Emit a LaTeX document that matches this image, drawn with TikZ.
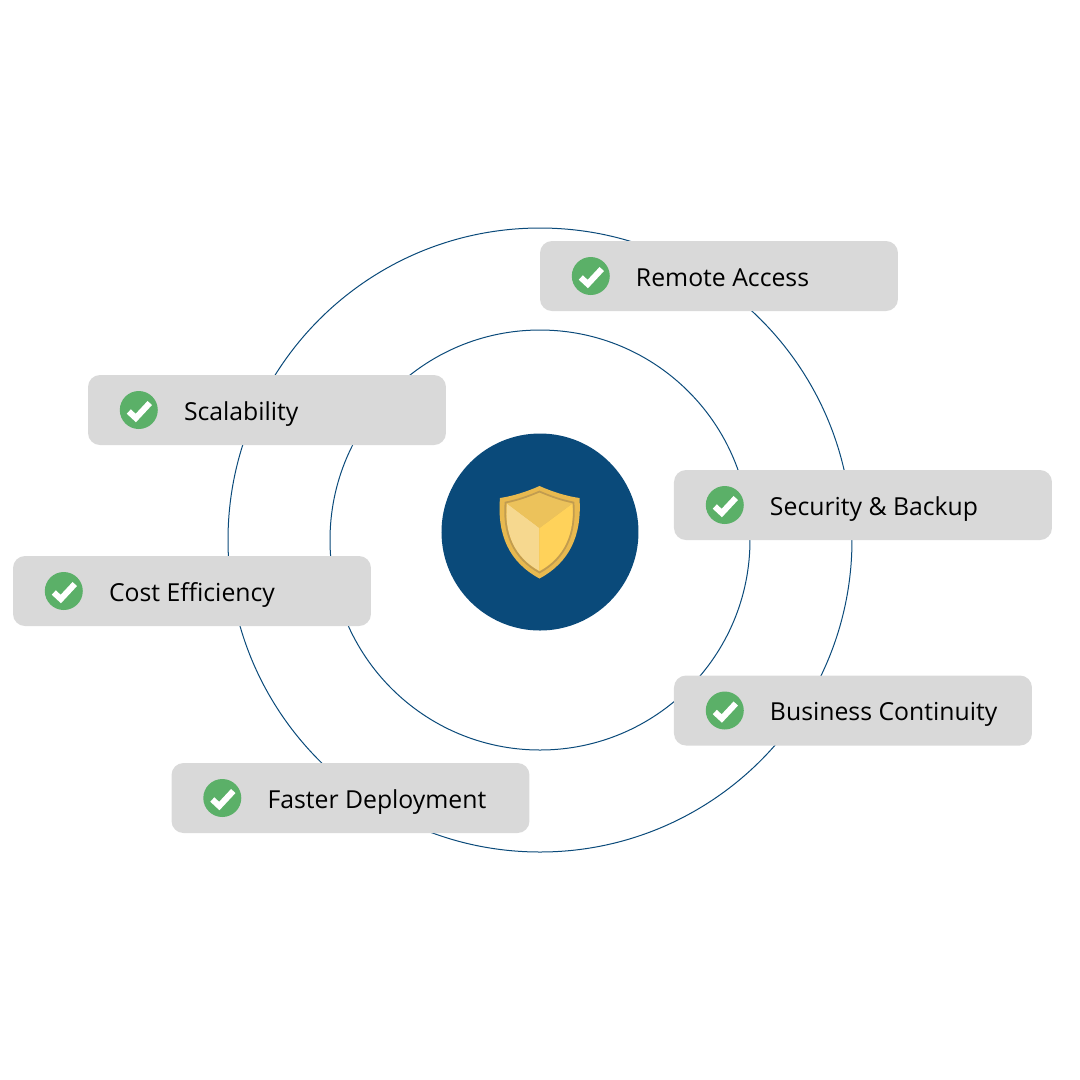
\documentclass[tikz,border=0pt]{standalone}
\usepackage{fontspec}
\setmainfont{Open Sans}
\usetikzlibrary{calc, positioning}

\definecolor{navy}{HTML}{0A4A7A}
\definecolor{boxgray}{HTML}{D9D9D9}
\definecolor{okgreen}{HTML}{5BB068}
\definecolor{shieldrim}{HTML}{E8B94F}
\definecolor{shieldline}{HTML}{C19C50}
\definecolor{shieldtop}{HTML}{ECC25B}
\definecolor{shieldleft}{HTML}{F6D88F}
\definecolor{shieldright}{HTML}{FFD25A}

\begin{document}
\begin{tikzpicture}[
  x=0.1mm, y=-0.1mm,
  ring/.style={circle, draw=navy, line width=0.1mm, minimum size=#1, inner sep=0pt},
  hub/.style={circle, fill=navy, minimum size=19.7mm, inner sep=0pt},
  itembox/.style={rectangle, fill=boxgray, rounded corners=1.2mm,
                  minimum width=#1, minimum height=7mm, inner sep=0pt},
  itembox/.default=35.8mm,
  checknode/.style={circle, fill=okgreen, minimum size=3.8mm, inner sep=0pt},
  itemlabel/.style={anchor=west, inner sep=0pt, text=black, text height=2mm, text depth=0mm,
                    font=\fontsize{7.05pt}{9pt}\selectfont},
  tick/.style={draw=white, line width=0.6mm, line join=miter},
]
\useasboundingbox (0,0) rectangle (1080,1080);

% ---- rings ----
\node[ring=62.4mm] (outer) at (540,540) {};
\node[ring=42mm] (inner) at (540,540) {};
\node[hub] (hub) at (540,532) {};

% ---- shield ----
\fill[shieldrim] (539.5,486) .. controls (553,492) and (566,496) .. (579.5,498)
  .. controls (582,535) and (570,562) .. (539.5,578.5)
  .. controls (509,562) and (497,535) .. (500,498)
  .. controls (513,496) and (526,492) .. (539.5,486) -- cycle;
\fill[shieldleft] (507,503.5) -- (539.5,528) -- (539.5,571)
  .. controls (514,557) and (504,533) .. (507,503.5) -- cycle;
\fill[shieldright] (572.5,503.5) -- (539.5,528) -- (539.5,571)
  .. controls (565,557) and (575,533) .. (572.5,503.5) -- cycle;
\fill[shieldtop] (539.5,492.5) .. controls (551,497) and (561,501) .. (572.5,503.5)
  -- (539.5,528) -- (507,503.5)
  .. controls (518,501) and (528,497) .. (539.5,492.5) -- cycle;
\draw[shieldline, line width=0.17mm] (539.5,491.5) .. controls (551,496.5) and (561,500) .. (573.5,502.5)
  .. controls (576,533) and (566,558) .. (539.5,572.5)
  .. controls (513,558) and (503,533) .. (505.5,502.5)
  .. controls (518,500) and (528,496.5) .. (539.5,491.5) -- cycle;

% ---- boxes ----
\node[itembox] (remote) at (719,276) {};
\node[itembox] (scale) at (267,410) {};
\node[itembox=37.8mm] (security) at (863,505) {};
\node[itembox] (cost) at (192,591) {};
\node[itembox] (business) at (853,710.5) {};
\node[itembox] (faster) at (350.5,798) {};

% ---- labels ----
\foreach \name/\txt in {remote/Remote Access, scale/Scalability,
    security/Security \& Backup, cost/Cost Efficiency,
    business/Business Continuity, faster/Faster Deployment} {
  \node[checknode] (\name-check) at ($(\name.west)+(51.5,0)$) {};
  \draw[tick] ($(\name-check)+(-10,1.5)$) -- ($(\name-check)+(-3,8)$) -- ($(\name-check)+(11,-7)$);
  \node[itemlabel] (\name-label) at ($(\name.west)+(96,0)$) {\txt};
}
\end{tikzpicture}
\end{document}
